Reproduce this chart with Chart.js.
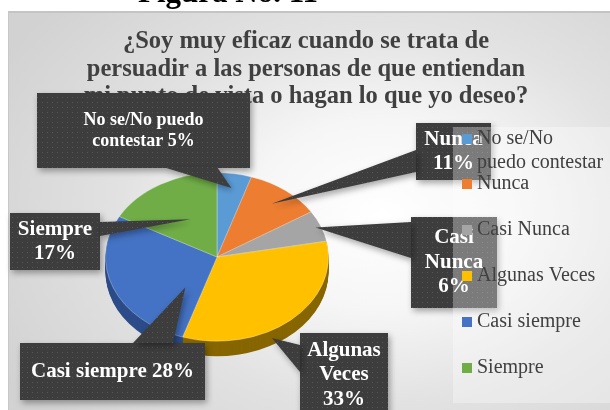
<!DOCTYPE html>
<html>
<head>
<meta charset="utf-8">
<script src="https://cdn.jsdelivr.net/npm/chart.js@4.4.1/dist/chart.umd.min.js"></script>
<style>
  html, body { margin: 0; padding: 0; background: #ffffff; overflow: hidden; }
  #wrap { position: relative; width: 610px; height: 410px; }
  #frame {
    position: absolute; left: 8px; top: 11px; width: 620px; height: 420px;
    border-top: 2px solid #c4c4c4; border-left: 1px solid #c8c8c8;
    background: radial-gradient(ellipse 70% 75% at 60% 48%, #ffffff 0%, #f6f6f6 30%, #e2e2e2 60%, #d2d2d2 100%);
  }
  #myChart { position: absolute; left: 0; top: 0; }
</style>
</head>
<body>
<div id="wrap">
  <div id="frame"></div>
  <canvas id="myChart" width="610" height="410"></canvas>
</div>
<script>
let categories = ['No se/No puedo contestar', 'Nunca', 'Casi Nunca', 'Algunas Veces', 'Casi siempre', 'Siempre'];
let values = [5, 11, 6, 33, 28, 17]; // percent of answers
let colors = ['#5B9BD5', '#ED7D31', '#A5A5A5', '#FFC000', '#4472C4', '#70AD47'];
let sideColors = ['#3b6d9c', '#a4541c', '#6f6f6f', '#876600', '#2b4c88', '#4a7a2e'];
let titleLines = ['¿Soy muy eficaz cuando se trata de', 'persuadir a las personas de que entiendan', 'mi punto de vista o hagan lo que yo deseo?'];
let figureLabel = 'Figura No. 11';

const serif = "'Liberation Serif', 'Times New Roman', serif";
const tilt = 0.755;   // vertical squash of the pie
const depth = 15;     // thickness of the pie side

// callout boxes: box rect, font size, wrap width, pointer base, anchor inside slice
const callouts = [
    { box: [37, 93, 213, 75], font: 18, wrap: 160, base: [[163, 167], [217, 167]], t: 0.5, f: 0.83 },
    { box: [416, 123, 75, 57], font: 21, wrap: 62, base: [[416, 150], [416, 172]], t: 0.5, f: 0.8 },
    { box: [411, 217, 86, 91], font: 21, wrap: 62, base: [[411, 222], [411, 258]], t: 0.5, f: 0.95 },
    { box: [300, 333, 88, 84], font: 21, wrap: 75, base: [[300, 345], [300, 372]], t: 0.62, f: 1.08 },
    { box: [20, 343, 185, 57], font: 21, wrap: 180, base: [[133, 343], [173, 343]], t: 0.2, f: 0.46 },
    { box: [10, 213, 90, 57], font: 21, wrap: 80, base: [[100, 222], [100, 236]], t: 0.54, f: 0.51 }
];

function wrapText(ctx, text, maxWidth) {
    let words = text.split(' ');
    let lines = [];
    let line = '';
    for (let w of words) {
        let test = line ? line + ' ' + w : w;
        if (line && ctx.measureText(test).width > maxWidth) {
            lines.push(line);
            line = w;
        } else {
            line = test;
        }
    }
    if (line) lines.push(line);
    return lines;
}

// dotted fill used by the callouts
function makeDots() {
    let c = document.createElement('canvas');
    c.width = 5; c.height = 5;
    let g = c.getContext('2d');
    g.fillStyle = '#3d3d3d';
    g.fillRect(0, 0, 5, 5);
    g.fillStyle = '#575757';
    g.fillRect(2, 2, 1, 1);
    return c;
}
const dots = makeDots();

// squash the pie into an ellipse and draw its side
const tiltPlugin = {
    id: 'tilt',
    beforeDatasetsDraw(chart) {
        const ctx = chart.ctx;
        const arcs = chart.getDatasetMeta(0).data;
        const cx = arcs[0].x, cy = arcs[0].y;
        ctx.save();
        ctx.translate(cx, cy);
        ctx.scale(1, tilt);
        ctx.translate(-cx, -cy);
        for (let k = depth; k >= 1; k--) {
            arcs.forEach((arc, i) => {
                const p = arc.getProps(['x', 'y', 'startAngle', 'endAngle', 'outerRadius'], true);
                ctx.beginPath();
                ctx.moveTo(p.x, p.y + k / tilt);
                ctx.arc(p.x, p.y + k / tilt, p.outerRadius, p.startAngle, p.endAngle);
                ctx.closePath();
                ctx.fillStyle = sideColors[i];
                ctx.fill();
            });
        }
    },
    afterDatasetsDraw(chart) {
        chart.ctx.restore();
    }
};

const decorPlugin = {
    id: 'decor',
    afterDraw(chart) {
        const ctx = chart.ctx;
        const arcs = chart.getDatasetMeta(0).data;
        const total = values.reduce((a, b) => a + b, 0);

        // figure caption, mostly cut off at the top
        ctx.save();
        ctx.fillStyle = '#000000';
        ctx.font = 'bold 31px ' + serif;
        ctx.textAlign = 'center';
        ctx.textBaseline = 'alphabetic';
        ctx.fillText(figureLabel, 228, 2);

        // title
        ctx.fillStyle = '#404040';
        ctx.font = 'bold 24.5px ' + serif;
        ctx.textBaseline = 'middle';
        titleLines.forEach((t, i) => ctx.fillText(t, 306, 42 + i * 27.5));
        ctx.restore();

        // callouts
        callouts.forEach((c, i) => {
            const arc = arcs[i];
            const p = arc.getProps(['x', 'y', 'startAngle', 'endAngle', 'outerRadius'], true);
            const a = p.startAngle + c.t * (p.endAngle - p.startAngle);
            const tipX = p.x + c.f * p.outerRadius * Math.cos(a);
            const tipY = p.y + c.f * p.outerRadius * Math.sin(a) * tilt;
            const [bx, by, bw, bh] = c.box;

            ctx.save();
            ctx.shadowColor = 'rgba(0,0,0,0.35)';
            ctx.shadowBlur = 6;
            ctx.shadowOffsetX = 2;
            ctx.shadowOffsetY = 3;
            ctx.fillStyle = ctx.createPattern(dots, 'repeat');
            ctx.beginPath();
            ctx.rect(bx, by, bw, bh);
            ctx.fill();
            ctx.beginPath();
            ctx.moveTo(c.base[0][0], c.base[0][1]);
            ctx.lineTo(tipX, tipY);
            ctx.lineTo(c.base[1][0], c.base[1][1]);
            ctx.closePath();
            ctx.fill();
            ctx.restore();

            ctx.save();
            ctx.fillStyle = '#ffffff';
            ctx.font = 'bold ' + c.font + 'px ' + serif;
            ctx.textAlign = 'center';
            ctx.textBaseline = 'middle';
            const pct = Math.round(values[i] / total * 100) + '%';
            const lines = wrapText(ctx, categories[i] + ' ' + pct, c.wrap);
            const lh = c.font * 1.17;
            const y0 = by + bh / 2 - (lines.length - 1) * lh / 2;
            lines.forEach((l, j) => ctx.fillText(l, bx + bw / 2, y0 + j * lh));
            ctx.restore();
        });

        // legend on the right
        ctx.save();
        ctx.fillStyle = 'rgba(255,255,255,0.32)';
        ctx.fillRect(453, 127, 160, 276);
        ctx.font = '20px ' + serif;
        ctx.textBaseline = 'middle';
        ctx.textAlign = 'left';
        categories.forEach((cat, i) => {
            const y = i === 0 ? 139 : 184 + (i - 1) * 46;
            ctx.fillStyle = colors[i];
            ctx.fillRect(462, y - 5, 10, 10);
            ctx.fillStyle = '#404040';
            wrapText(ctx, cat, 128).forEach((l, j) => ctx.fillText(l, 477, y + j * 24));
        });
        ctx.restore();
    }
};

const chart = document.getElementById('myChart').getContext('2d');
const myChart = new Chart(chart, {
    type: 'pie',
    data: {
        labels: categories,
        datasets: [{
            data: values,
            backgroundColor: colors,
            borderColor: 'rgba(255,255,255,0.35)',
            borderWidth: 1
        }]
    },
    options: {
        responsive: false,
        animation: false,
        devicePixelRatio: 1,
        events: [],
        layout: {
            padding: { left: 105, right: 281, top: 145, bottom: 41 }
        },
        plugins: {
            legend: { display: false },
            title: { display: false },
            tooltip: { enabled: false }
        }
    },
    plugins: [tiltPlugin, decorPlugin]
});
</script>
</body>
</html>
